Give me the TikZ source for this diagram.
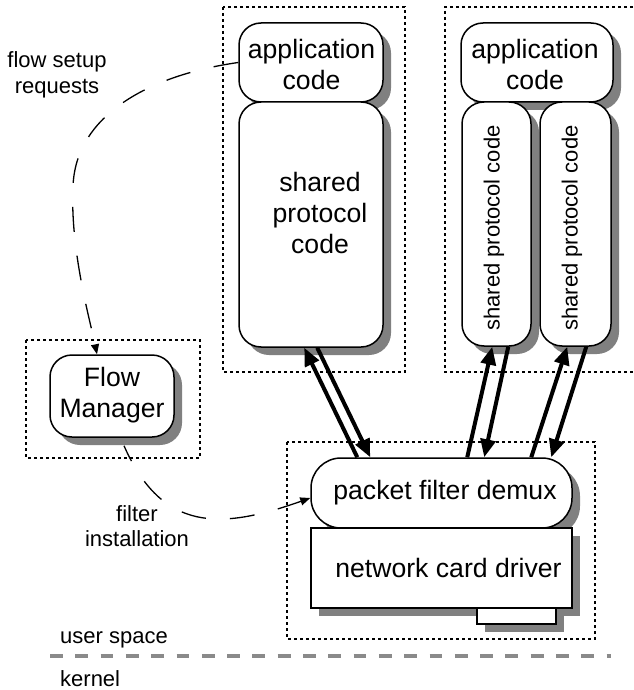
\documentclass[tikz,border=0pt]{standalone}
\usepackage{fontspec}
\setmainfont{Liberation Sans}
\usetikzlibrary{arrows.meta}
\definecolor{shadegray}{HTML}{808080}
\definecolor{splitgray}{HTML}{8A8A8A}

\begin{document}
\begin{tikzpicture}[x=1pt,y=-1pt,
  plainbox/.style={draw,line width=1.5pt,fill=white,inner sep=0pt},
  roundbox/.style={plainbox,rounded corners=22pt},
  groupframe/.style={draw,line width=1.3pt,dash pattern=on 3pt off 3pt},
  bigtext/.style={font=\fontsize{26.6}{31}\selectfont,align=center,inner sep=0pt},
  smalltext/.style={font=\fontsize{22}{25.5}\selectfont,align=center,inner sep=0pt},
  flowline/.style={line width=1.3pt,dash pattern=on 25pt off 24pt,
    -{Triangle[length=10pt,width=8pt]}},
  dataarrow/.style={line width=4pt,-{Triangle[length=18pt,width=15pt]}},
  shadowfill/.style={fill=shadegray},
]
\useasboundingbox (0,0) rectangle (633,690);

% dotted grouping frames
\draw[groupframe] (223,7) rectangle (405,372);
\draw[groupframe] (633,7) -- (445,7) -- (445,372) -- (633,372);
\draw[groupframe] (26,340) rectangle (200,458);
\draw[groupframe] (287,442) rectangle (595,639);

% first application (each box is preceded by its drop shadow)
\fill[shadowfill,rounded corners=22pt] (247,31) rectangle (391,110);
\node[roundbox,minimum width=144pt,minimum height=79pt] (ac1) at (311,62.5) {};
\fill[shadowfill,rounded corners=22pt] (247,110) rectangle (391,355);
\node[roundbox,minimum width=144pt,minimum height=245pt] (sp1) at (311,224.5) {};
\node[bigtext] (ac1t) at (311.5,64) {application\\code};
\node[bigtext] (sp1t) at (320,213) {shared\\protocol\\code};

% second application
\fill[shadowfill,rounded corners=22pt] (469,31) rectangle (621,110);
\node[roundbox,minimum width=152pt,minimum height=79pt] (ac2) at (537,62.5) {};
\fill[shadowfill,rounded corners=22pt] (470,110) rectangle (539,354);
\fill[shadowfill,rounded corners=22pt] (548,110) rectangle (619,354);
\node[roundbox,minimum width=69pt,minimum height=244pt] (sp2a) at (496.5,224) {};
\node[roundbox,minimum width=71pt,minimum height=244pt] (sp2b) at (575.5,224) {};
\node[bigtext] (ac2t) at (535,64) {application\\code};
\node[smalltext,rotate=90] (sp2at) at (494,228) {shared protocol code};
\node[smalltext,rotate=90] (sp2bt) at (572,228) {shared protocol code};

% flow manager
\fill[shadowfill,rounded corners=22pt] (58,363) rectangle (182,445);
\node[roundbox,minimum width=124pt,minimum height=82pt] (fm) at (112,396) {};
\node[bigtext] (fmt) at (112,395) {Flow\\Manager};

% kernel side: demux, driver and card
\fill[shadowfill,rounded corners=30pt] (319,466) rectangle (580,536);
\node[plainbox,rounded corners=30pt,minimum width=261pt,minimum height=70pt] (pf) at (441.5,493) {};
\fill[shadowfill] (319,536) rectangle (580,616);
\node[plainbox,minimum width=261pt,minimum height=80pt] (ncd) at (441.5,568) {};
\fill[shadowfill] (485,616) rectangle (564,632);
\node[plainbox,minimum width=79pt,minimum height=16pt] (tab) at (516.5,616) {};
\node[bigtext] (pft) at (445,492.5) {packet filter demux};
\node[bigtext] (ncdt) at (448.5,568) {network card driver};

% free labels
\node[smalltext] (fsr) at (57,75) {flow setup\\requests};
\node[smalltext] (fil) at (137,526) {filter\\installation};
\node[smalltext,anchor=west] (usr) at (60,640) {user space};
\node[smalltext,anchor=west] (krn) at (60,679) {kernel};

% user/kernel boundary
\draw[line width=4pt,splitgray,dash pattern=on 12.8pt off 12.5pt] (50,656) -- (611,656);

% control-path connectors
\draw[flowline] (ac1.west) .. controls (150,75) and (75,115) .. (73,187)
  .. controls (70,250) and (90,320) .. ([xshift=-15pt]fm.north);
\draw[flowline,dash phase=8pt] ([xshift=12pt,yshift=-8pt]fm.south) .. controls (162,532) and (220,530)
  .. ([yshift=-5pt]pf.west);

% data-path arrows between the demux and the protocol stacks
\draw[dataarrow] ([xshift=47pt]pf.north west) -- ([xshift=66pt]sp1.south west);
\draw[dataarrow] ([xshift=79pt]sp1.south west) -- ([xshift=60pt]pf.north west);
\draw[dataarrow] ([xshift=157pt]pf.north west) -- ([xshift=31pt]sp2a.south west);
\draw[dataarrow] ([xshift=47pt]sp2a.south west) -- ([xshift=174pt]pf.north west);
\draw[dataarrow] ([xshift=221pt]pf.north west) -- ([xshift=28pt]sp2b.south west);
\draw[dataarrow] ([xshift=47pt]sp2b.south west) -- ([xshift=241pt]pf.north west);
\end{tikzpicture}
\end{document}
